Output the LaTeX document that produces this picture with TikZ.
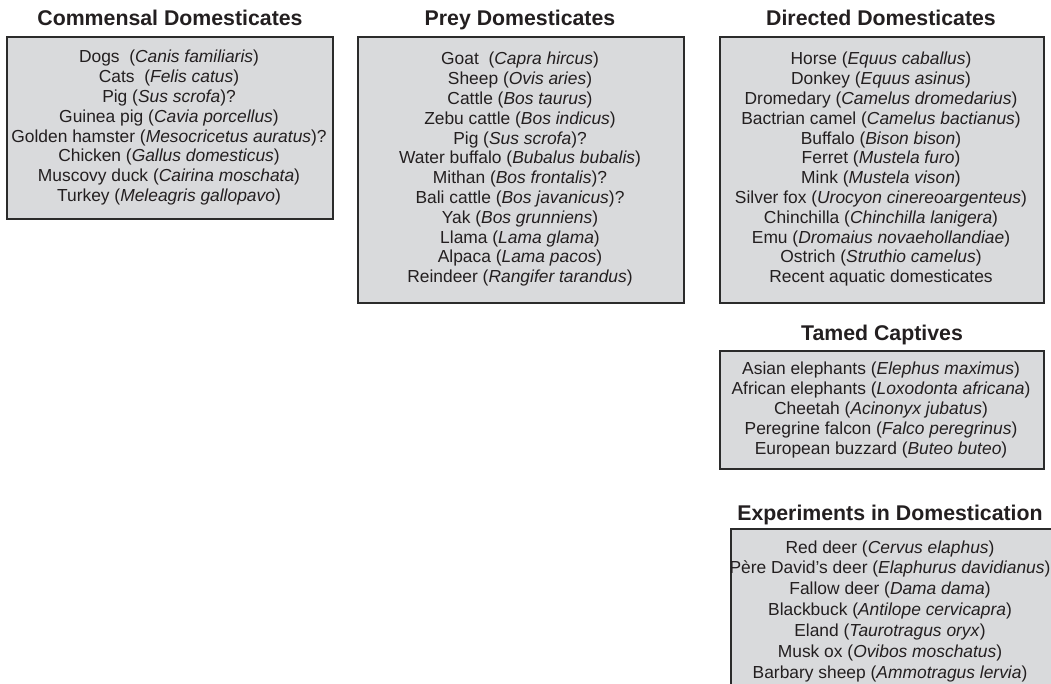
\documentclass[tikz,border=0pt]{standalone}
\usepackage{fontspec}
\setmainfont{Liberation Sans}
\definecolor{boxfill}{HTML}{D9DADC}
\definecolor{boxline}{HTML}{2B2B2B}
\definecolor{ink}{HTML}{231F20}
\tikzset{
  catbox/.style={draw=boxline, fill=boxfill, line width=1.8pt, inner sep=0pt, anchor=north west},
  cattitle/.style={font=\fontsize{21.3}{25}\selectfont\bfseries, anchor=base, inner sep=0pt, text=ink},
  catlist/.style={font=\fontsize{17.4}{19.8}\selectfont, align=center, anchor=base, inner sep=0pt, text=ink},
}
\begin{document}
\begin{tikzpicture}[x=1pt,y=-1pt]
\useasboundingbox (0,0) rectangle (1051,684);
\clip (0,0) rectangle (1051,684);
% boxes
\node[catbox, minimum width=326pt, minimum height=182pt] (box1) at (6,36) {};
\node[catbox, minimum width=326pt, minimum height=266pt] (box2) at (357,36) {};
\node[catbox, minimum width=324pt, minimum height=266pt] (box3) at (719,36) {};
\node[catbox, minimum width=324pt, minimum height=118pt] (box4) at (719,350) {};
\node[catbox, minimum width=340pt, minimum height=180pt] (box5) at (730,528) {};
% titles
\node[cattitle] (title1) at (170,26) {Commensal Domesticates};
\node[cattitle] (title2) at (520,26) {Prey Domesticates};
\node[cattitle] (title3) at (881,26) {Directed Domesticates};
\node[cattitle] (title4) at (882,340) {Tamed Captives};
\node[cattitle] (title5) at (890,520) {Experiments in Domestication};
% lists (anchor=base is the baseline of the last line)
\node[catlist] (list1) at (169,201.6) {Dogs\ \ (\textit{Canis familiaris})\\
Cats\ \ (\textit{Felis catus})\\
Pig (\textit{Sus scrofa})?\\
Guinea pig (\textit{Cavia porcellus})\\
Golden hamster (\textit{Mesocricetus auratus})?\\
Chicken (\textit{Gallus domesticus})\\
Muscovy duck (\textit{Cairina moschata})\\
Turkey (\textit{Meleagris gallopavo})};
\node[catlist] (list2) at (520,282.8) {Goat\ \ (\textit{Capra hircus})\\
Sheep (\textit{Ovis aries})\\
Cattle (\textit{Bos taurus})\\
Zebu cattle (\textit{Bos indicus})\\
Pig (\textit{Sus scrofa})?\\
Water buffalo (\textit{Bubalus bubalis})\\
Mithan (\textit{Bos frontalis})?\\
Bali cattle (\textit{Bos javanicus})?\\
Yak (\textit{Bos grunniens})\\
Llama (\textit{Lama glama})\\
Alpaca (\textit{Lama pacos})\\
Reindeer (\textit{Rangifer tarandus})};
\node[catlist] (list3) at (881,282.8) {Horse (\textit{Equus caballus})\\
Donkey (\textit{Equus asinus})\\
Dromedary (\textit{Camelus dromedarius})\\
Bactrian camel (\textit{Camelus bactianus})\\
Buffalo (\textit{Bison bison})\\
Ferret (\textit{Mustela furo})\\
Mink (\textit{Mustela vison})\\
Silver fox (\textit{Urocyon cinereoargenteus})\\
Chinchilla (\textit{Chinchilla lanigera})\\
Emu (\textit{Dromaius novaehollandiae})\\
Ostrich (\textit{Struthio camelus})\\
Recent aquatic domesticates};
\node[catlist, font=\fontsize{17.4}{20.2}\selectfont] (list4) at (881,454.8) {Asian elephants (\textit{Elephus maximus})\\
African elephants (\textit{Loxodonta africana})\\
Cheetah (\textit{Acinonyx jubatus})\\
Peregrine falcon (\textit{Falco peregrinus})\\
European buzzard (\textit{Buteo buteo})};
\node[catlist, font=\fontsize{17.4}{20.9}\selectfont] (list5) at (890,678.4) {Red deer (\textit{Cervus elaphus})\\
Père David’s deer (\textit{Elaphurus davidianus})\\
Fallow deer (\textit{Dama dama})\\
Blackbuck (\textit{Antilope cervicapra})\\
Eland (\textit{Taurotragus oryx})\\
Musk ox (\textit{Ovibos moschatus})\\
Barbary sheep (\textit{Ammotragus lervia})};
\end{tikzpicture}
\end{document}
